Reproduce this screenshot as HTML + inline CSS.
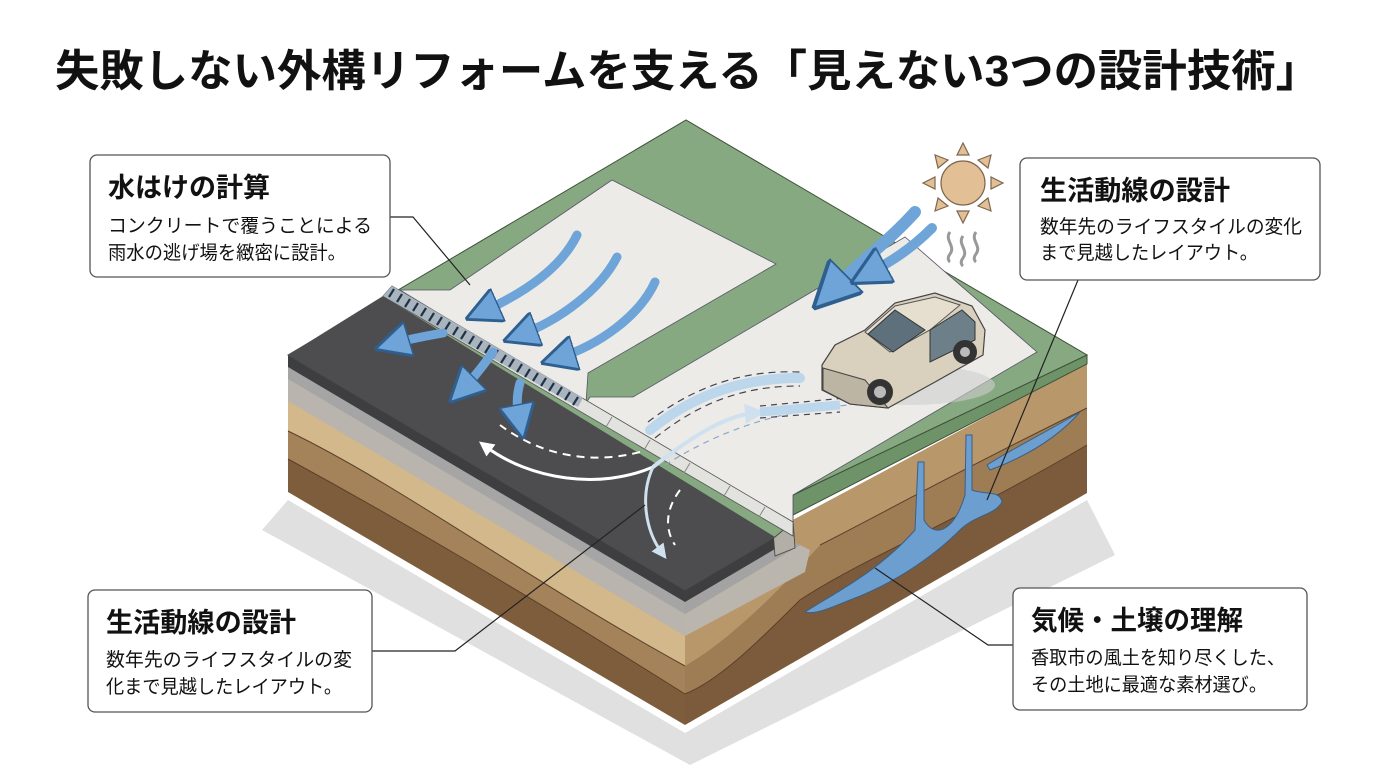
<!DOCTYPE html>
<html><head><meta charset="utf-8"><style>
html,body{margin:0;padding:0;background:#fff;}
svg{display:block;}
.t{font-family:"Liberation Sans","Noto Sans CJK JP",sans-serif;fill:#111;}
</style></head><body>
<svg width="1376" height="768" viewBox="0 0 1376 768" xmlns="http://www.w3.org/2000/svg">
<defs>
<marker id="bh" viewBox="0 0 10 10" refX="5" refY="5" markerWidth="4" markerHeight="4" orient="auto"><path d="M0,0 L10,5 L0,10 Z" fill="#6ea4d8" stroke="#2f5f8f" stroke-width="0.8"/></marker>
<marker id="wh" viewBox="0 0 10 10" refX="5" refY="5" markerWidth="5" markerHeight="5" orient="auto"><path d="M0,0 L10,5 L0,10 Z" fill="#fff"/></marker>
<marker id="lh" viewBox="0 0 10 10" refX="5" refY="5" markerWidth="5" markerHeight="5" orient="auto"><path d="M0,0 L10,5 L0,10 Z" fill="#cfe0ef"/></marker>
</defs>

<text class="t" x="55" y="86" font-size="44" font-weight="bold" textLength="1265" lengthAdjust="spacingAndGlyphs">失敗しない外構リフォームを支える「見えない3つの設計技術」</text>

<polygon points="262,530 288,500 685,733 1087,500 1115,555 690,765" fill="#e0e0e0"/>

<!-- LEFT FACE -->
<polygon points="288,355 685,590 685,725 288,492" fill="#7e5d3d"/>
<path d="M288,355 L685,590 L685,694 C520,590 400,520 288,459 Z" fill="#a4835b"/>
<path d="M288,355 L685,590 L685,666 C520,575 400,485 288,431 Z" fill="#d2b88b"/>
<polygon points="288,355 685,590 685,636 288,401" fill="#b9b4ad"/>
<polygon points="288,355 685,590 685,614 288,379" fill="#a5a5a5"/>
<polygon points="288,355 685,590 685,602 288,367" fill="#3e3e40"/>
<path d="M288,459 C400,520 520,590 685,694 M288,431 C400,485 520,575 685,666" fill="none" stroke="#5a4129" stroke-width="1"/>

<!-- RIGHT FACE -->
<polygon points="685,590 793,520 1087,363 1087,493 685,725" fill="#7b5b3b"/>
<path d="M685,590 L793,520 L1087,363 L1087,445 C960,520 860,560 800,600 C760,640 720,680 685,694 Z" fill="#9e7c54"/>
<path d="M685,590 L793,520 L1087,363 L1087,408 C960,470 870,520 820,545 C780,590 730,640 685,666 Z" fill="#b8976b"/>
<path d="M1087,445 C960,520 860,560 800,600 C760,640 720,680 685,694 M1087,408 C960,470 870,520 820,545" fill="none" stroke="#5a4129" stroke-width="1"/>
<polygon points="685,614 800,545 810,550 805,572 685,636" fill="#bab5ad"/>
<polygon points="685,602 790,540 800,545 685,614" fill="#a3a3a3"/>
<polygon points="685,590 775,537 775,549 685,602" fill="#3e3e40"/>
<polygon points="773,530 793,520 795,548 775,556" fill="#b3aea6" stroke="#444" stroke-width="0.8"/>
<path d="M805,612 C840,590 880,570 915,530 L918,462 L924,462 L924,520 C935,540 955,530 965,495 L966,435 L972,435 L972,490 C985,495 1000,490 1002,502 C995,515 975,515 960,530 C930,560 890,585 850,600 C830,608 815,615 805,612 Z" fill="#6c9fcf" stroke="#3c5f85" stroke-width="1"/>
<path d="M987,465 C1010,450 1050,430 1080,412 C1060,435 1030,455 990,470 Z" fill="#6c9fcf" stroke="#3c5f85" stroke-width="1"/>
<polygon points="793,495 1087,355 1087,364 793,515" fill="#6e9368" stroke="#3e5239" stroke-width="1"/>

<!-- TOP FACE -->
<polygon points="288,355 686,120 1087,355 793,495 793,522 775,537 685,590" fill="#87a981" stroke="#3e5239" stroke-width="1"/>
<polygon points="288,355 383,296 775,537 685,590" fill="#4d4d4f"/>
<polygon points="400,290 450,290 612,180 776,264 588,373 586,403" fill="#ecebe8" stroke="#556" stroke-width="0.8"/>
<polygon points="586,403 590,397 633,397 905,237 1037,352 793,495 793,522" fill="#ecebe8" stroke="#556" stroke-width="0.8"/>
<polygon points="392,286 793,522 793,536 383,296" fill="#e2e2df" stroke="#555" stroke-width="0.8"/>
<polygon points="392,286 583,398 578,407 383,296" fill="#a9b4be"/>
<g stroke="#1f3347" stroke-width="2.2">
<path d="M394,289 l-5,8 M402,294 l-5,8 M410,299 l-5,8 M418,303 l-5,8 M426,308 l-5,8 M434,313 l-5,8 M442,317 l-5,8 M450,322 l-5,8 M458,327 l-5,8 M466,331 l-5,8 M474,336 l-5,8 M482,341 l-5,8 M490,345 l-5,8 M498,350 l-5,8 M506,355 l-5,8 M514,359 l-5,8 M522,364 l-5,8 M530,369 l-5,8 M538,373 l-5,8 M546,378 l-5,8 M554,383 l-5,8 M562,387 l-5,8 M570,392 l-5,8 M578,397 l-5,8"/>
</g>
<g stroke="#888" stroke-width="1"><path d="M612,417 l-6,10 M650,440 l-6,10 M690,463 l-6,10 M730,486 l-6,10 M765,507 l-6,10"/></g>

<g fill="none" stroke="#6ea4d8" stroke-width="9" stroke-linecap="round" marker-end="url(#bh)">
<path d="M577,235 C560,270 520,295 482,312"/>
<path d="M617,257 C600,290 560,320 520,335"/>
<path d="M655,282 C640,315 600,345 558,358"/>
<path d="M443,333 C420,337 405,340 392,344"/>
<path d="M493,352 C480,370 470,382 462,390"/>
<path d="M520,383 C515,400 518,412 520,422"/>
<path d="M915,212 C890,240 860,262 830,292" stroke-width="12"/>
<path d="M932,228 C910,250 890,262 868,274" stroke-width="10"/>
</g>

<path d="M653,467 C600,490 530,480 485,446" fill="none" stroke="#fff" stroke-width="3" marker-end="url(#wh)"/>
<path d="M640,452 C590,465 540,455 500,425" fill="none" stroke="#fff" stroke-width="2" stroke-dasharray="8,6"/>
<path d="M680,490 C665,510 665,530 675,545" fill="none" stroke="#fff" stroke-width="2" stroke-dasharray="8,6"/>
<path d="M653,467 C700,430 730,415 755,413" fill="none" stroke="#cfe0ef" stroke-width="4" marker-end="url(#lh)"/>
<path d="M653,467 C640,495 645,530 662,553" fill="none" stroke="#cfe0ef" stroke-width="3" marker-end="url(#lh)"/>
<path d="M650,430 C700,390 750,378 800,378" fill="none" stroke="#bcd6ec" stroke-width="10" stroke-linecap="round"/>
<path d="M648,422 C700,382 750,370 800,372 M655,438 C705,398 750,386 800,386" fill="none" stroke="#445" stroke-width="1.2" stroke-dasharray="7,5"/>
<path d="M665,465 C720,430 780,410 850,405" fill="none" stroke="#8aa9c6" stroke-width="1.2" stroke-dasharray="6,5"/>
<path d="M760,412 L840,405" stroke="#bcd6ec" stroke-width="9"/>
<path d="M760,406 L845,398 M760,418 L840,412" stroke="#445" stroke-width="1.2" stroke-dasharray="6,5"/>

<!-- car -->
<ellipse cx="910" cy="385" rx="85" ry="20" fill="#cfcfcf" opacity="0.6"/>
<path d="M822,365 L835,345 L865,330 L895,303 L935,293 L972,306 L985,330 L983,355 L935,382 L888,408 L850,404 L822,390 Z" fill="#d9d1be" stroke="#444" stroke-width="1.2"/>
<path d="M865,332 L895,306 L935,297 L960,305 L930,330 L890,352 Z" fill="#e6dfcf" stroke="#555" stroke-width="1"/>
<path d="M868,334 L895,310 L925,330 L893,352 Z" fill="#5d707b" stroke="#333" stroke-width="1"/>
<path d="M930,330 L962,310 L975,322 L975,340 L930,362 Z" fill="#6d7f88" stroke="#333" stroke-width="1"/>
<path d="M823,368 L865,380 L888,408 L850,404 L823,390 Z" fill="#bdb5a3" stroke="#444" stroke-width="1"/>
<circle cx="880" cy="392" r="13" fill="#333"/><circle cx="880" cy="392" r="6" fill="#bbb"/>
<circle cx="965" cy="352" r="12" fill="#333"/><circle cx="965" cy="352" r="5" fill="#bbb"/>

<g fill="#e2bf95" stroke="#7d6650" stroke-width="1.2">
<circle cx="963" cy="183" r="22"/>
<polygon points="963,143 957,155 969,155"/><polygon points="963,223 957,211 969,211"/>
<polygon points="923,183 935,177 935,189"/><polygon points="1003,183 991,177 991,189"/>
<polygon points="935,155 938,168 948,160"/><polygon points="991,155 978,160 988,168"/>
<polygon points="935,211 948,206 938,198"/><polygon points="991,211 978,206 988,198"/>
</g>
<g fill="none" stroke="#999" stroke-width="3"><path d="M950,232 c-6,8 6,14 0,22 c-4,5 0,8 0,8 M963,236 c-6,8 6,14 0,22 c-4,5 0,8 0,8 M976,232 c-6,8 6,14 0,22 c-4,5 0,8 0,8"/></g>

<g fill="none" stroke="#222" stroke-width="1.2">
<path d="M390,217 L413,217 L470,285"/>
<path d="M1078,280 L987,500"/>
<path d="M372,651 L455,651 L645,505"/>
<path d="M1013,645 L988,645 L875,568"/>
</g>

<g fill="#fff" stroke="#555" stroke-width="1.3">
<rect x="90" y="155" width="300" height="122" rx="7"/>
<rect x="1020" y="158" width="300" height="122" rx="7"/>
<rect x="88" y="590" width="284" height="122" rx="7"/>
<rect x="1013" y="588" width="294" height="122" rx="7"/>
</g>
<text class="t" x="108" y="197" font-size="27" font-weight="bold" textLength="162" lengthAdjust="spacingAndGlyphs">水はけの計算</text>
<text class="t" x="108" y="232" font-size="19" textLength="264" lengthAdjust="spacingAndGlyphs">コンクリートで覆うことによる</text>
<text class="t" x="108" y="259" font-size="19" textLength="238" lengthAdjust="spacingAndGlyphs">雨水の逃げ場を緻密に設計。</text>

<text class="t" x="1040" y="200" font-size="27" font-weight="bold" textLength="190" lengthAdjust="spacingAndGlyphs">生活動線の設計</text>
<text class="t" x="1040" y="233" font-size="19" textLength="262" lengthAdjust="spacingAndGlyphs">数年先のライフスタイルの変化</text>
<text class="t" x="1040" y="259" font-size="19" textLength="218" lengthAdjust="spacingAndGlyphs">まで見越したレイアウト。</text>

<text class="t" x="106" y="632" font-size="27" font-weight="bold" textLength="190" lengthAdjust="spacingAndGlyphs">生活動線の設計</text>
<text class="t" x="106" y="666" font-size="19" textLength="246" lengthAdjust="spacingAndGlyphs">数年先のライフスタイルの変</text>
<text class="t" x="106" y="693" font-size="19" textLength="236" lengthAdjust="spacingAndGlyphs">化まで見越したレイアウト。</text>

<text class="t" x="1031" y="630" font-size="27" font-weight="bold" textLength="212" lengthAdjust="spacingAndGlyphs">気候・土壌の理解</text>
<text class="t" x="1031" y="664" font-size="19" textLength="254" lengthAdjust="spacingAndGlyphs">香取市の風土を知り尽くした、</text>
<text class="t" x="1031" y="691" font-size="19" textLength="236" lengthAdjust="spacingAndGlyphs">その土地に最適な素材選び。</text>
</svg>
</body></html>
